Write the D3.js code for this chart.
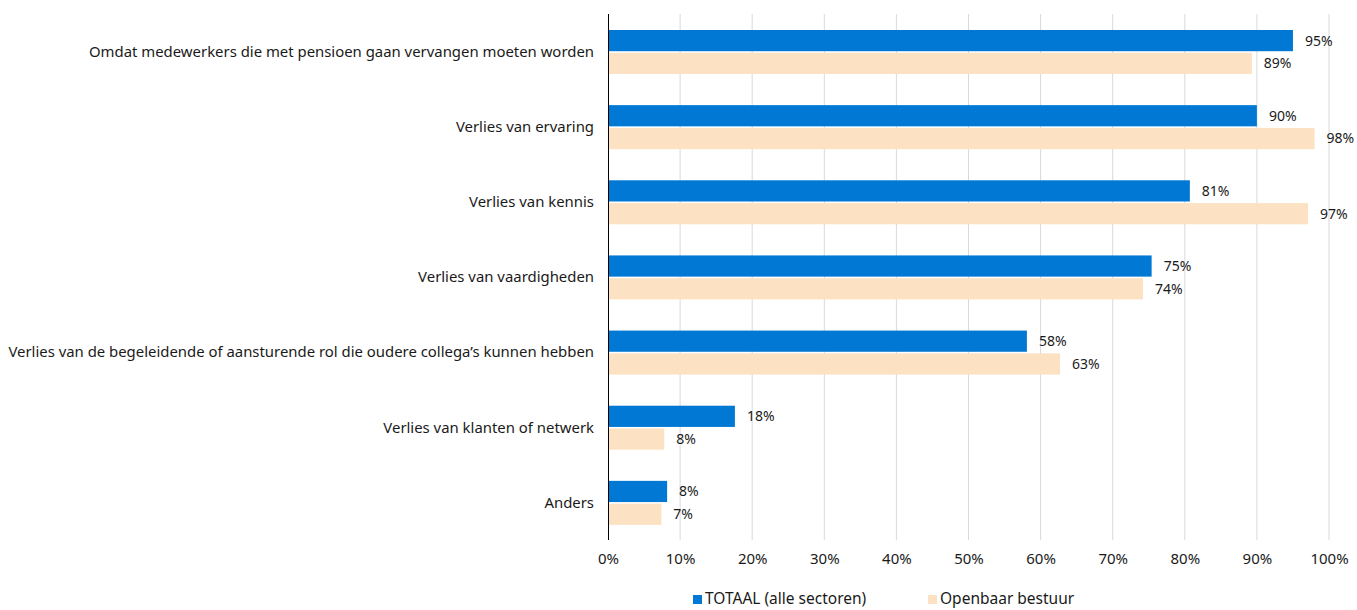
<!DOCTYPE html>
<html><head><meta charset="utf-8">
<script src="https://cdn.jsdelivr.net/npm/d3@7"></script>
<style>body{margin:0;background:#fff;} svg text{font-family:"Noto Sans",sans-serif;fill:#1a1a1a;}</style>
</head><body><svg id="c" width="1357" height="610"></svg>
<script>
const categories = ["Omdat medewerkers die met pensioen gaan vervangen moeten worden","Verlies van ervaring","Verlies van kennis","Verlies van vaardigheden","Verlies van de begeleidende of aansturende rol die oudere collega’s kunnen hebben","Verlies van klanten of netwerk","Anders"];
const seriesNames = ["TOTAAL (alle sectoren)","Openbaar bestuur"];
const totaal = [95.0, 90.0, 80.7, 75.4, 58.1, 17.6, 8.2];
const openbaar = [89.3, 98.0, 97.1, 74.2, 62.7, 7.8, 7.4];
const ticks = [0,10,20,30,40,50,60,70,80,90,100];
const colors = ["#0078D4","#FCE2C2"];

const svg = d3.select("#c");
const x = d3.scaleLinear().domain([0,100]).range([608,1329]);
const y = d3.scaleBand().domain(categories).range([14,540]);
const inner = d3.scaleBand().domain([0,1]).range([16,60]).paddingInner(0.07);

svg.append("g").selectAll("line").data(ticks.slice(1)).join("line")
  .attr("x1",d=>x(d)).attr("x2",d=>x(d)).attr("y1",14).attr("y2",540)
  .attr("stroke","#d9d9d9").attr("stroke-width",1);

const xAxis = d3.axisBottom(x).tickValues(ticks).tickFormat(d=>d+"%").tickSize(0).tickPadding(0);
const gx = svg.append("g").attr("transform","translate(0,540)").call(xAxis);
gx.select(".domain").remove();
gx.selectAll("text").attr("dy",null).attr("y",24).style("font-size","15px");

const yAxis = d3.axisLeft(y).tickSize(0).tickPadding(14);
const gy = svg.append("g").attr("transform","translate(608,0)").call(yAxis);
gy.select(".domain").remove();
gy.selectAll("text").style("font-size","14.9px").attr("dy","0.35em");

const data = [totaal, openbaar];
data.forEach((vals,si)=>{
  const g = svg.append("g");
  g.selectAll("rect").data(vals).join("rect")
    .attr("x",x(0)).attr("y",(d,i)=>y(categories[i])+inner(si))
    .attr("width",d=>x(d)-x(0)).attr("height",inner.bandwidth())
    .attr("fill",colors[si]);
  g.selectAll("text").data(vals).join("text")
    .attr("x",d=>x(d)+12).attr("y",(d,i)=>y(categories[i])+inner(si)+inner.bandwidth()/2)
    .attr("dy","0.35em").style("font-size","14px").text(d=>Math.round(d)+"%");
});

svg.append("line").attr("x1",608.5).attr("x2",608.5).attr("y1",14).attr("y2",540).attr("stroke","#000").attr("stroke-width",1);

const lx = [693, 928];
seriesNames.forEach((n,i)=>{
  svg.append("rect").attr("x",lx[i]).attr("y",595).attr("width",9).attr("height",9).attr("fill",colors[i]);
  svg.append("text").attr("x",lx[i]+12).attr("y",599).attr("dy","0.35em").style("font-size","15.5px").text(n);
});
</script></body></html>
